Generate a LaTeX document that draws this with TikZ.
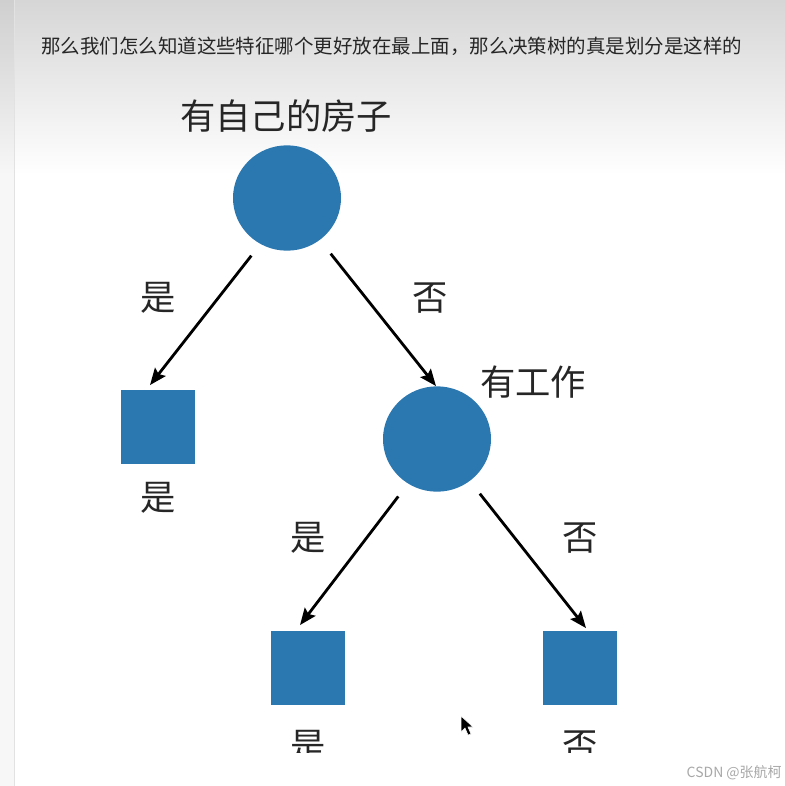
\documentclass[tikz,border=0pt]{standalone}
\usepackage{fontspec}
\newfontfamily\cjk{Noto Sans CJK SC}
\usetikzlibrary{shapes.geometric,arrows.meta}
\definecolor{nodeblue}{HTML}{2B77B0}
\definecolor{topgrey}{HTML}{D6D6D6}
\definecolor{stripline}{HTML}{E2E2E2}
\definecolor{wmgrey}{HTML}{A8A8A8}
\begin{document}
\begin{tikzpicture}[x=0.75pt,y=-0.75pt,
  decnode/.style={ellipse,fill=nodeblue,draw=none,minimum width=81pt,minimum height=79pt,inner sep=0pt},
  leafnode/.style={rectangle,fill=nodeblue,draw=none,minimum width=55.5pt,minimum height=55pt,inner sep=0pt},
  biglabel/.style={font=\cjk\fontsize{26.5}{30}\selectfont,text=black!85,inner sep=0pt},
  arr/.style={line width=2.1pt,-{Stealth[length=12.5pt,width=10pt,inset=2pt]}},
]
\useasboundingbox (0,0) rectangle (785,786);
% background
\fill[white] (0,0) rectangle (785,786);
\shade[top color=topgrey,bottom color=white] (0,0) rectangle (785,175);
\fill[black,opacity=0.03] (0,0) rectangle (14,786);
\draw[stripline,line width=1.2pt] (14.5,0) -- (14.5,786);

% heading text
\node[anchor=west,inner sep=0pt,font=\cjk\fontsize{14.6}{18}\selectfont,text=black!85] (head) at (41,46)
  {那么我们怎么知道这些特征哪个更好放在最上面，那么决策树的真是划分是这样的};

% nodes
\node[decnode] (c1) at (287,198) {};
\node[biglabel] (t1) at (286,116) {有自己的房子};
\node[leafnode] (s1) at (158,427) {};
\node[decnode] (c2) at (437,439) {};
\node[biglabel] (t2) at (533,382) {有工作};
\node[leafnode] (s2) at (307.5,668) {};
\node[leafnode] (s3) at (579.5,668) {};

% edge labels
\node[biglabel] (l1) at (158,298) {是};
\node[biglabel] (l2) at (430,298) {否};
\node[biglabel] (l3) at (308,538) {是};
\node[biglabel] (l4) at (580,538) {否};

% leaf labels
\node[biglabel] (r1) at (158,498) {是};
\begin{scope}
  \clip (0,0) rectangle (785,752);
  \node[biglabel] (r2) at (308,746) {是};
  \node[biglabel] (r3) at (580,746) {否};
\end{scope}

% connectors
\draw[arr,shorten <=11pt] (c1.240) -- ([shift={(-8,-5)}]s1.north);
\draw[arr,shorten <=13pt] (c1.308) -- ([shift={(-1,0)}]c2.north);
\draw[arr,shorten <=12pt] (c2.237) -- ([shift={(-7.5,-6)}]s2.north);
\draw[arr,shorten <=12pt] (c2.308) -- ([shift={(6.5,-3)}]s3.north);

% mouse cursor
\fill[black,draw=white,line width=0.4pt] (461,716) -- (461,732) -- (465,728) -- (468,735) -- (471,734) -- (468,727) -- (473,727) -- cycle;

% watermark
\node[anchor=east,inner sep=0pt,font=\cjk\fontsize{10.5}{12}\selectfont,text=wmgrey] (wm) at (782,773) {CSDN @张航柯};
\end{tikzpicture}
\end{document}
